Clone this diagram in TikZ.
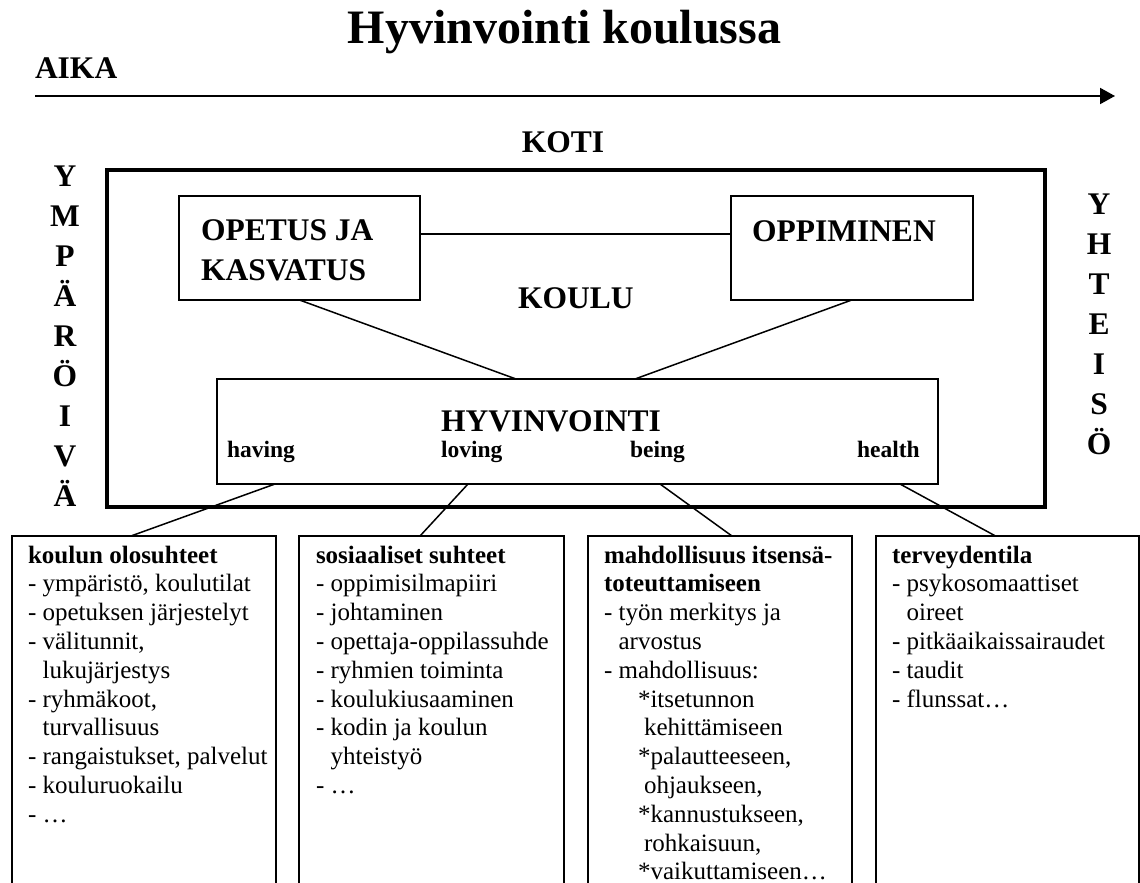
\documentclass[tikz,border=0pt]{standalone}
\usepackage{fontspec}
\setmainfont{Liberation Serif}
\usetikzlibrary{arrows.meta}
\begin{document}
\begin{tikzpicture}[x=0.5pt,y=-0.5pt,
  every node/.style={inner sep=0pt, outer sep=0pt},
  title/.style={font=\fontsize{24}{28}\selectfont\bfseries},
  big/.style={font=\fontsize{15.75}{20}\selectfont\bfseries},
  dim/.style={font=\fontsize{11.75}{14}\selectfont\bfseries},
  body/.style={font=\fontsize{12.5}{14.4}\selectfont, anchor=base west},
  frame/.style={draw, line width=2pt, minimum width=468.75pt, minimum height=168.25pt},
  box/.style 2 args={draw, line width=1pt, minimum width=#1, minimum height=#2},
  link/.style={line width=0.75pt},
]
\clip (0,0) rectangle (1140,883);
\fill[white] (0,0) rectangle (1140,883);

% heading and time axis
\node[title, anchor=base] (title) at (564.5,44) {Hyvinvointi koulussa};
\node[big, anchor=base west] (aika) at (35,79) {AIKA};
\coordinate (t0) at (35,96);
\coordinate (t1) at (1115,96);
\draw[line width=1pt, -{Triangle[length=7.5pt,width=8pt]}] (t0) -- (t1);

% home frame and surroundings
\node[big, anchor=base] (koti) at (563,152) {KOTI};
\node[frame] (frame) at (575.75,338.25) {};
\foreach \c [count=\i from 0] in {Y,M,P,Ä,R,Ö,I,V,Ä}
  \node[big, anchor=base] (ymp\i) at (65,{186+40*\i}) {\c};
\foreach \c [count=\i from 0] in {Y,H,T,E,I,S,Ö}
  \node[big, anchor=base] (yht\i) at (1099,{214+40*\i}) {\c};

% school level
\node[box={120.5pt}{52pt}] (opetus) at (299.5,248) {};
\node[big, anchor=base west] (opetusA) at (201,240) {OPETUS JA};
\node[big, anchor=base west] (opetusB) at (201,280) {KASVATUS};
\node[box={120.75pt}{52pt}] (opp) at (851.75,248) {};
\node[big, anchor=base west] (opptext) at (752,241) {OPPIMINEN};
\node[big, anchor=base west] (koulu) at (518,308) {KOULU};

\node[box={360.5pt}{52.5pt}] (hyv) at (577.5,431.5) {};
\node[big, anchor=base west] (hyvtext) at (441,431) {HYVINVOINTI};
\node[dim, anchor=base west] (having) at (227,457) {having};
\node[dim, anchor=base west] (loving) at (441,457) {loving};
\node[dim, anchor=base west] (being) at (630,457) {being};
\node[dim, anchor=base west] (health) at (857,457) {health};

% dimension boxes (continue below the page edge)
\node[box={131.75pt}{232pt}] (b1) at (143.75,768) {};
\node[box={132.5pt}{232pt}] (b2) at (431.5,768) {};
\node[box={132.25pt}{232pt}] (b3) at (719.75,768) {};
\node[box={131.5pt}{232pt}] (b4) at (1007,768) {};

\node[body] (t1txt) at (28,563) {\begin{tabular}[t]{@{}l@{}}
\textbf{koulun olosuhteet}\\
- ympäristö, koulutilat\\
- opetuksen järjestelyt\\
- välitunnit,\\
\hphantom{- }lukujärjestys\\
- ryhmäkoot,\\
\hphantom{- }turvallisuus\\
- rangaistukset, palvelut\\
- kouluruokailu\\
- …
\end{tabular}};

\node[body] (t2txt) at (316,563) {\begin{tabular}[t]{@{}l@{}}
\textbf{sosiaaliset suhteet}\\
- oppimisilmapiiri\\
- johtaminen\\
- opettaja-oppilassuhde\\
- ryhmien toiminta\\
- koulukiusaaminen\\
- kodin ja koulun\\
\hphantom{- }yhteistyö\\
- …
\end{tabular}};

\node[body] (t3txt) at (604,563) {\begin{tabular}[t]{@{}l@{}}
\textbf{mahdollisuus itsensä-}\\
\textbf{toteuttamiseen}\\
- työn merkitys ja\\
\hphantom{- }arvostus\\
- mahdollisuus:\\
\hspace{17pt}*itsetunnon\\
\hspace{20pt}kehittämiseen\\
\hspace{17pt}*palautteeseen,\\
\hspace{20pt}ohjaukseen,\\
\hspace{17pt}*kannustukseen,\\
\hspace{20pt}rohkaisuun,\\
\hspace{17pt}*vaikuttamiseen…
\end{tabular}};

\node[body] (t4txt) at (892,563) {\begin{tabular}[t]{@{}l@{}}
\textbf{terveydentila}\\
- psykosomaattiset\\
\hphantom{- }oireet\\
- pitkäaikaissairaudet\\
- taudit\\
- flunssat…
\end{tabular}};

% connectors
\draw[link] ([yshift=7pt]opetus.east) -- ([yshift=7pt]opp.west);
\draw[link] (opetus.south) -- ([xshift=-30.75pt]hyv.north);
\draw[link] (opp.south) -- ([xshift=28.75pt]hyv.north);
\draw[link] ([xshift=29pt]hyv.south west) -- ([xshift=-6.4pt]b1.north);
\draw[link] ([xshift=125.5pt]hyv.south west) -- ([xshift=-5.75pt]b2.north);
\draw[link] ([xshift=221.5pt]hyv.south west) -- ([xshift=6.1pt]b3.north);
\draw[link] ([xshift=341.5pt]hyv.south west) -- ([xshift=-5.75pt]b4.north);
\end{tikzpicture}
\end{document}
